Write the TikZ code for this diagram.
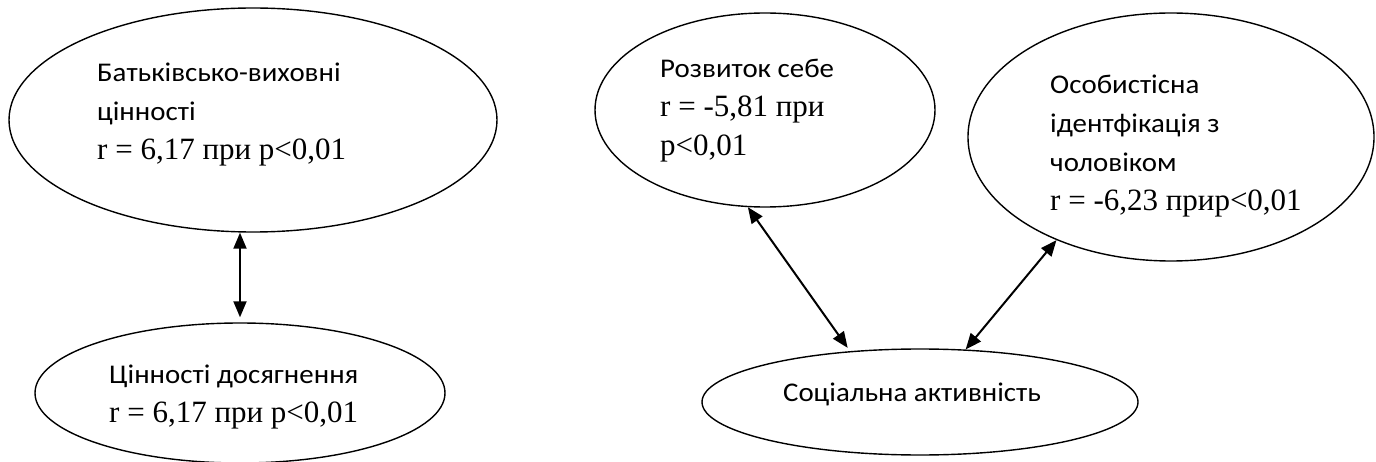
\documentclass[tikz,border=0pt]{standalone}
\usepackage{fontspec}
\setmainfont{Liberation Serif}
\newfontfamily\carlito[FakeStretch=1.07]{Carlito}
\usetikzlibrary{shapes.geometric,arrows.meta}
\newcommand{\sanstxt}{\carlito\fontsize{27}{39}\selectfont}
\newcommand{\sertxt}{\rmfamily\fontsize{31}{39}\selectfont}
\newcommand{\tp}{\rule{0pt}{22pt}}

\begin{document}
\begin{tikzpicture}[x=1pt, y=-1pt,
        oval/.style={draw, ellipse, line width=1.4pt, inner sep=0pt},
        lbl/.style={anchor=north west, align=left, inner sep=0pt, font=\sanstxt},
        link/.style={{Triangle[length=16pt,width=13pt]}-{Triangle[length=16pt,width=13pt]}, line width=2pt}]
    \useasboundingbox (0,0) rectangle (1376,462);
    \node[oval, minimum width=488, minimum height=224] (batk)   at (253,120) {};
    \node[oval, minimum width=410, minimum height=140] (dosyag) at (240,393) {};
    \node[oval, minimum width=340, minimum height=194] (rozv)   at (765,110) {};
    \node[oval, minimum width=406, minimum height=248] (osob)   at (1171,137) {};
    \node[oval, minimum width=436, minimum height=106] (soc)    at (920,402) {};
    \node[lbl] (batk-t)   at (97,59)   {\tp Батьківсько-виховні\\цінності\\{\sertxt r = 6,17 при p<0,01}};
    \node[lbl] (dosyag-t) at (109,361) {\tp Цінності досягнення\\{\sertxt r = 6,17 при p<0,01}};
    \node[lbl] (rozv-t)   at (660,55)  {\tp Розвиток себе\\{\sertxt r = -5,81 при}\\{\sertxt p<0,01}};
    \node[lbl] (osob-t)   at (1050,71) {\tp Особистісна\\ідентфікація з\\чоловіком\\{\sertxt r = -6,23 прир<0,01}};
    \node[font=\sanstxt, inner sep=0pt, anchor=base] (soc-t) at (912,401) {Соціальна активність};
    \draw[link, shorten >=5pt] (batk.south -| dosyag.north) -- (dosyag.north);
    \draw[link, shorten >=4pt] (rozv.260) -- (soc.144);
    \draw[link] (osob.222) -- (soc.49);
\end{tikzpicture}
\end{document}
